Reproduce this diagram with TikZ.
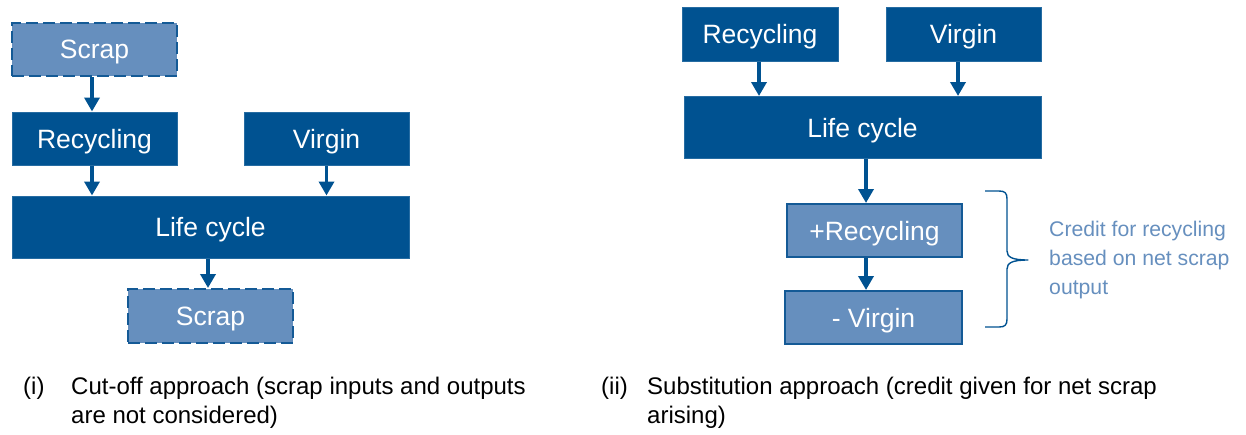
\documentclass[tikz,border=0pt]{standalone}
\usepackage{fontspec}
\setmainfont{Liberation Sans}
\usetikzlibrary{arrows.meta,calc}
\definecolor{dblue}{RGB}{0,82,145}
\definecolor{lblue}{RGB}{102,143,190}
\definecolor{lbord}{RGB}{20,90,150}
\tikzset{
  darkbox/.style={fill=dblue,draw=dblue!85!white,line width=1pt,text=white,inner sep=0pt,
    text depth=0pt,font=\fontsize{26.5}{30}\selectfont},
  lightbox/.style={fill=lblue,draw=lbord,line width=2pt,text=white,inner sep=0pt,
    text depth=0pt,font=\fontsize{26.5}{30}\selectfont},
  dashbox/.style={lightbox,dash pattern=on 12pt off 5pt},
  arr/.style={draw=dblue,line width=3.5pt,-{Triangle[width=15pt,length=14pt]}},
  bracestyle/.style={draw=dblue,line width=1.4pt,line join=round},
  caption/.style={anchor=north west,inner sep=0pt,align=left,font=\fontsize{24}{29}\selectfont},
  credit/.style={anchor=west,inner sep=0pt,align=left,text=lblue,font=\fontsize{21.2}{29}\selectfont}
}
\begin{document}
\begin{tikzpicture}[x=1pt,y=-1pt]
\useasboundingbox (0,0) rectangle (1246,434);
% ---- left panel
\node[dashbox,minimum width=165pt,minimum height=53pt] (ls1) at (94.5,49.5) {Scrap};
\node[darkbox,minimum width=165pt,minimum height=53pt] (lrec) at (94.5,138.5) {Recycling};
\node[darkbox,minimum width=165pt,minimum height=53pt] (lvir) at (326.5,138.5) {Virgin};
\node[darkbox,minimum width=397pt,minimum height=62pt] (llife) at (210.5,227) {Life cycle};
\node[dashbox,minimum width=165pt,minimum height=54pt] (ls2) at (210.5,316) {Scrap};
\draw[arr] ([xshift=-2.5pt]ls1.south) -- ([xshift=-2.5pt]lrec.north);
\draw[arr] ([xshift=-2.5pt]lrec.south) -- ([xshift=-2.5pt]lrec.south |- llife.north);
\draw[arr] (lvir.south) -- (lvir.south |- llife.north);
\draw[arr] ([xshift=-2.5pt]ls2.north |- llife.south) -- ([xshift=-2.5pt]ls2.north);
% ---- right panel
\node[darkbox,minimum width=156pt,minimum height=54pt] (rrec) at (760,34) {Recycling};
\node[darkbox,minimum width=155pt,minimum height=54pt] (rvir) at (963.5,34) {Virgin};
\node[darkbox,minimum width=357pt,minimum height=62pt] (rlife) at (862.5,127.5) {Life cycle};
\node[lightbox,minimum width=175pt,minimum height=53pt] (rplus) at (874.5,230.5) {+Recycling};
\node[lightbox,minimum width=177pt,minimum height=53pt] (rminus) at (873.5,317.5) {- Virgin};
\draw[arr] ([xshift=-1pt]rrec.south) -- ([xshift=-1pt]rrec.south |- rlife.north);
\draw[arr] ([xshift=-5.5pt]rvir.south) -- ([xshift=-5.5pt]rvir.south |- rlife.north);
\draw[arr] ([xshift=-8.5pt]rplus.north |- rlife.south) -- ([xshift=-8.5pt]rplus.north);
\draw[arr] ([xshift=-8.5pt]rplus.south) -- ([xshift=-8.5pt]rplus.south |- rminus.north);
% brace
\draw[bracestyle] (985,191) -- (999,191) .. controls (1005,191) and (1007,193) .. (1007,199)
  -- (1007,251) .. controls (1007,257) and (1012,260) .. (1028,260)
  .. controls (1012,260) and (1007,263) .. (1007,269)
  -- (1007,319) .. controls (1007,325) and (1005,327) .. (999,327) -- (985,327);
\node[credit] (cred) at (1049,260) {Credit for recycling\\based on net scrap\\output};
% captions
\node[caption] (c1n) at (23,377) {(i)};
\node[caption] (c1) at (71,377) {Cut-off approach (scrap inputs and outputs\\are not considered)};
\node[caption] (c2n) at (601,377) {(ii)};
\node[caption] (c2) at (647,377) {Substitution approach (credit given for net scrap\\arising)};
\end{tikzpicture}
\end{document}
